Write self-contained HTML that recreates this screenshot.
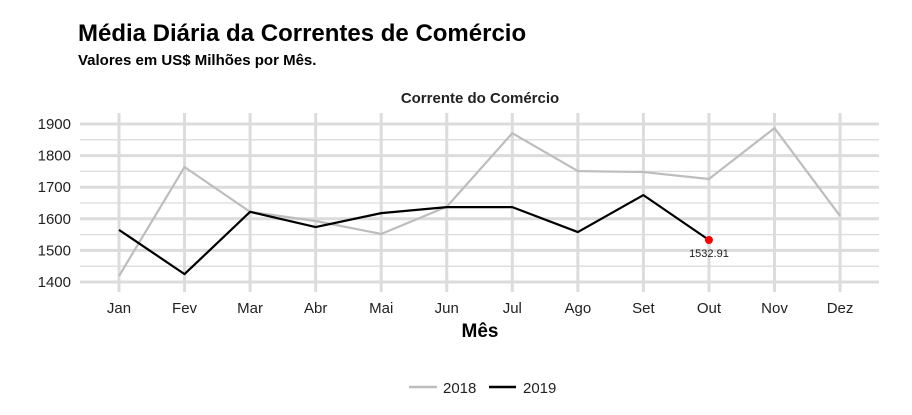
<!DOCTYPE html>
<html><head><meta charset="utf-8"><style>
body{margin:0;background:#fff;width:912px;height:410px;overflow:hidden;font-family:"Liberation Sans",Arial,sans-serif}
</style></head><body>
<svg id="chart" width="912" height="410" xmlns="http://www.w3.org/2000/svg" font-family="Liberation Sans, Arial, sans-serif">
<text x="78" y="41" font-size="24" font-weight="bold" fill="#000">Média Diária da Correntes de Comércio</text>
<text x="78" y="65" font-size="15" font-weight="bold" fill="#000">Valores em US$ Milhões por Mês.</text>
<text x="480" y="103" font-size="15" font-weight="bold" text-anchor="middle" fill="#222">Corrente do Comércio</text>
<g id="grid"></g><g id="axes"></g><g id="series"></g>
<text x="480" y="337" font-size="19" font-weight="bold" text-anchor="middle" fill="#000">Mês</text>
<g>
<line x1="409" y1="387" x2="437" y2="387" stroke="#bdbdbd" stroke-width="2.5"/>
<text x="443" y="393" font-size="15" fill="#222">2018</text>
<line x1="489" y1="387" x2="516" y2="387" stroke="#000" stroke-width="2.5"/>
<text x="523" y="393" font-size="15" fill="#222">2019</text>
</g>
</svg>
<script>
const months=["Jan","Fev","Mar","Abr","Mai","Jun","Jul","Ago","Set","Out","Nov","Dez"];
const values2018=[1419,1764,1622,1593,1552,1638,1871,1751,1748,1726,1887,1609];
const values2019=[1565,1425,1622,1574,1618,1637,1637,1558,1675,1532.91];
const yTicks=[1400,1500,1600,1700,1800,1900];
const NS="http://www.w3.org/2000/svg";
const x=i=>119+i*65.55;
const y=v=>282-(v-1400)*0.316;
function mk(p,t,a){const e=document.createElementNS(NS,t);for(const k in a)e.setAttribute(k,a[k]);p.appendChild(e);return e;}
const g=document.getElementById('grid'),ax=document.getElementById('axes'),s=document.getElementById('series');
for(let v=1400;v<=1900;v+=50){
 const major=v%100===0;
 const l=mk(g,'line',{x1:80,x2:879,y1:y(v),y2:y(v),stroke:'#dcdcdc','stroke-width':major?3:1.3});
 
 
}
months.forEach((m,i)=>{
 const l=mk(g,'line',{x1:x(i),x2:x(i),y1:113,y2:292,stroke:'#dcdcdc','stroke-width':3});
 
 
 const t=mk(ax,'text',{x:x(i),y:313,'font-size':15,'text-anchor':'middle',fill:'#222'});t.textContent=m;
 
 
});
yTicks.forEach(v=>{
 const t=mk(ax,'text',{x:71,y:y(v)+5,'font-size':15,'text-anchor':'end',fill:'#222'});t.textContent=v;
 
 
});
function line(vals,col,name){
 const p=mk(s,'polyline',{points:vals.map((v,i)=>x(i)+','+y(v)).join(' '),fill:'none',stroke:col,'stroke-width':2.2,'stroke-linejoin':'round'});
 
 
}
line(values2018,'#bdbdbd','line-2018');
line(values2019,'#000','line-2019');
const li=values2019.length-1,lv=values2019[li];
const c=mk(s,'circle',{cx:x(li),cy:y(lv),r:4,fill:'#f00'});


const lt=mk(s,'text',{x:x(li),y:y(lv)+17,'font-size':11,'text-anchor':'middle',fill:'#222'});lt.textContent=lv.toFixed(2);


</script>
</body></html>
